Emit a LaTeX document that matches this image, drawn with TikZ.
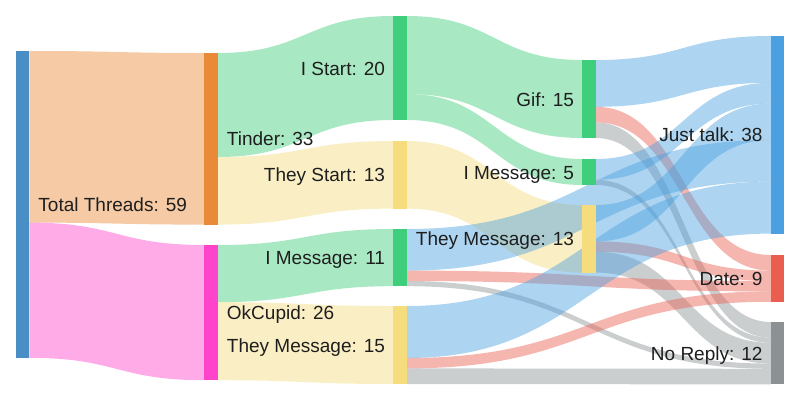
\documentclass[tikz,border=0pt]{standalone}
\usepackage{fontspec}
\setmainfont{Liberation Sans}
\usepackage{tikz}
\usetikzlibrary{calc}

\definecolor{totalc}{HTML}{4A8EC6}
\definecolor{tinderc}{HTML}{E88A38}
\definecolor{okcupidc}{HTML}{FF44CC}
\definecolor{greenc}{HTML}{3FCF7C}
\definecolor{yellowc}{HTML}{F5DC7C}
\definecolor{talkc}{HTML}{4AA0E0}
\definecolor{datec}{HTML}{EA5E4F}
\definecolor{replyc}{HTML}{8C9294}
\definecolor{textc}{HTML}{1E1E1E}

\pgfdeclarelayer{flows}
\pgfsetlayers{flows,main}

\newcommand{\valunit}{5.2pt}
% source, offset at source, target, offset at target, value, colour
\newcommand{\flow}[6]{%
  \fill[#6, fill opacity=0.45]
    let \p1=(#1.north east), \p2=(#3.north west), \n1={(\x1+\x2)/2} in
    (\x1,{\y1-#2*\valunit}) .. controls (\n1,{\y1-#2*\valunit}) and (\n1,{\y2-#4*\valunit}) .. (\x2,{\y2-#4*\valunit})
    -- (\x2,{\y2-(#4+#5)*\valunit}) .. controls (\n1,{\y2-(#4+#5)*\valunit}) and (\n1,{\y1-(#2+#5)*\valunit}) .. (\x1,{\y1-(#2+#5)*\valunit}) -- cycle;}

\tikzset{
  bar/.style={rectangle, inner sep=0pt, outer sep=0pt, minimum width=13.5pt, anchor=north},
  lbl/.style={inner sep=0pt, text=textc, font=\fontsize{19}{22}\selectfont}
}

\begin{document}
\begin{tikzpicture}[x=1pt, y=1pt]
\useasboundingbox (0,0) rectangle (800,400);
% nodes
\node[bar, fill=totalc, minimum height=59*\valunit] (total) at (22.5,349) {};
\node[bar, fill=tinderc, minimum height=33*\valunit] (tinder) at (211,347) {};
\node[bar, fill=okcupidc, minimum height=26*\valunit] (okcupid) at (211,155) {};
\node[bar, fill=greenc, minimum height=20*\valunit] (istart) at (400,384) {};
\node[bar, fill=yellowc, minimum height=13*\valunit] (theystart) at (400,259) {};
\node[bar, fill=greenc, minimum height=11*\valunit] (imsgA) at (400,171) {};
\node[bar, fill=yellowc, minimum height=15*\valunit] (theymsgA) at (400,94) {};
\node[bar, fill=greenc, minimum height=15*\valunit] (gif) at (589,340) {};
\node[bar, fill=greenc, minimum height=5*\valunit] (imsgB) at (589,241) {};
\node[bar, fill=yellowc, minimum height=13*\valunit] (theymsgB) at (589,195) {};
\node[bar, fill=talkc, minimum height=38*\valunit] (justtalk) at (777.5,364) {};
\node[bar, fill=datec, minimum height=9*\valunit] (date) at (777.5,145) {};
\node[bar, fill=replyc, minimum height=12*\valunit] (noreply) at (777.5,78) {};
% flows
\begin{pgfonlayer}{flows}
\flow{total}{0}{tinder}{0}{33}{tinderc}
\flow{total}{33}{okcupid}{0}{26}{okcupidc}
\flow{tinder}{0}{istart}{0}{20}{greenc}
\flow{tinder}{20}{theystart}{0}{13}{yellowc}
\flow{okcupid}{0}{imsgA}{0}{11}{greenc}
\flow{okcupid}{11}{theymsgA}{0}{15}{yellowc}
\flow{istart}{0}{gif}{0}{15}{greenc}
\flow{istart}{15}{imsgB}{0}{5}{greenc}
\flow{theystart}{0}{theymsgB}{0}{13}{yellowc}
\flow{gif}{0}{justtalk}{0}{9}{talkc}
\flow{gif}{9}{date}{0}{3}{datec}
\flow{gif}{12}{noreply}{0}{3}{replyc}
\flow{imsgB}{0}{justtalk}{9}{4}{talkc}
\flow{imsgB}{4}{noreply}{3}{1}{replyc}
\flow{theymsgB}{0}{justtalk}{13}{7}{talkc}
\flow{theymsgB}{7}{date}{3}{2}{datec}
\flow{theymsgB}{9}{noreply}{4}{4}{replyc}
\flow{imsgA}{0}{justtalk}{20}{8}{talkc}
\flow{imsgA}{8}{date}{5}{2}{datec}
\flow{imsgA}{10}{noreply}{8}{1}{replyc}
\flow{theymsgA}{0}{justtalk}{28}{10}{talkc}
\flow{theymsgA}{10}{date}{7}{2}{datec}
\flow{theymsgA}{12}{noreply}{9}{3}{replyc}
\end{pgfonlayer}
% labels
\foreach \n/\t in {total/{Total Threads: 59}, tinder/{Tinder: 33}, okcupid/{OkCupid: 26}}
  \node[lbl, anchor=base west] (l\n) at ([xshift=9pt, yshift=-7pt]\n.east) {\t};
\foreach \n/\t in {istart/{I Start: 20}, theystart/{They Start: 13}, imsgA/{I Message: 11}, theymsgA/{They Message: 15}, gif/{Gif: 15}, imsgB/{I Message: 5}, theymsgB/{They Message: 13}, justtalk/{Just talk: 38}, date/{Date: 9}, noreply/{No Reply: 12}}
  \node[lbl, anchor=base east] (l\n) at ([xshift=-8pt, yshift=-7pt]\n.west) {\t};
\end{tikzpicture}
\end{document}
